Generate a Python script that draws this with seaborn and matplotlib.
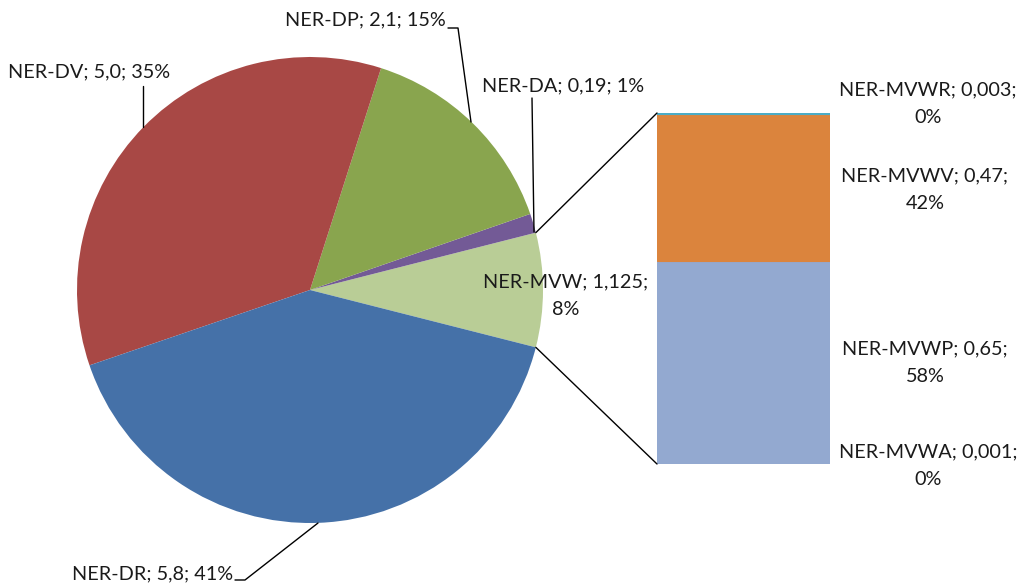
import numpy as np
import matplotlib
matplotlib.use("Agg")
import matplotlib.pyplot as plt
from matplotlib.patches import ConnectionPatch
import seaborn as sns

# ---- data ----
pie_labels = ["NER-MVW", "NER-DA", "NER-DP", "NER-DV", "NER-DR"]
pie_values = [1.125, 0.19, 2.1, 5.0, 5.8]
pie_value_text = ["1,125", "0,19", "2,1", "5,0", "5,8"]
pie_pct_text = ["8%", "1%", "15%", "35%", "41%"]
pie_colors = ["#B9CD96", "#735A96", "#89A54E", "#A84845", "#4571A8"]

bar_labels = ["NER-MVWA", "NER-MVWP", "NER-MVWV", "NER-MVWR"]
bar_values = [0.001, 0.65, 0.47, 0.003]
bar_value_text = ["0,001", "0,65", "0,47", "0,003"]
bar_pct_text = ["0%", "58%", "42%", "0%"]
bar_colors = ["#E46C6C", "#93A9D0", "#DB843D", "#4BACC6"]

sns.set_theme(style="white")
plt.rcParams["font.family"] = ["Lato", "DejaVu Sans"]

W, H = 1020, 586
fig = plt.figure(figsize=(W / 100, H / 100), dpi=100)
fig.patch.set_facecolor("white")

# pie axes
cx, cy, r = 310, 290, 233
ax = fig.add_axes([(cx - r) / W, (H - cy - r) / H, 2 * r / W, 2 * r / H])
mvw_frac = pie_values[0] / sum(pie_values)
start = -mvw_frac * 360 / 2
wedges, _ = ax.pie(pie_values, colors=pie_colors, startangle=start,
                   counterclock=True, radius=1,
                   wedgeprops=dict(linewidth=0))
ax.set_xlim(-1, 1)
ax.set_ylim(-1, 1)
ax.set_aspect("equal")
ax.axis("off")

# bar axes
bx0, bx1, by0, by1 = 657, 830, 113, 464
bax = fig.add_axes([bx0 / W, (H - by1) / H, (bx1 - bx0) / W, (by1 - by0) / H])
bottom = 0.0
for v, c in zip(bar_values, bar_colors):
    bax.bar(0, v, bottom=bottom, width=1.0, color=c, edgecolor=c, linewidth=0.8)
    bottom += v
total_bar = sum(bar_values)
bax.set_xlim(-0.5, 0.5)
bax.set_ylim(0, total_bar)
bax.axis("off")

# connectors
a = np.deg2rad(mvw_frac * 360 / 2)
for sgn, yb in [(1, total_bar), (-1, 0)]:
    con = ConnectionPatch(xyA=(np.cos(a), sgn * np.sin(a)), coordsA=ax.transData,
                          xyB=(-0.5, yb), coordsB=bax.transData,
                          color="black", linewidth=1.0)
    fig.add_artist(con)

fs = 14.3
def ftext(x, y, s, **kw):
    fig.text(x / W, 1 - y / H, s, fontsize=fs, color="#1a1a1a",
             va="center", **kw)

def fline(xs, ys):
    fig.add_artist(plt.Line2D([x / W for x in xs], [1 - y / H for y in ys],
                              color="black", linewidth=1.0))

lab = {n: f"{n}; {v}; {p}" for n, v, p in zip(pie_labels, pie_value_text, pie_pct_text)}

ftext(8, 72, lab["NER-DV"], ha="left")
fline([143, 143], [86, 127])

ftext(446, 20, lab["NER-DP"], ha="right")
fline([448, 458, 471], [28, 28, 122])

ftext(482, 86, lab["NER-DA"], ha="left")
fline([532, 534], [98, 232])

ls = 1.78
ftext(566, 296, "NER-MVW; 1,125;\n8%", ha="center", linespacing=ls)

ftext(233, 574, lab["NER-DR"], ha="right")
fline([235, 245, 318], [580, 580, 523])

# bar labels
bpos = {"NER-MVWR": (928, 104), "NER-MVWV": (925, 190),
        "NER-MVWP": (925, 363), "NER-MVWA": (928, 466)}
for n, v, p in zip(bar_labels, bar_value_text, bar_pct_text):
    x, y = bpos[n]
    ftext(x, y, f"{n}; {v};\n{p}", ha="center", linespacing=ls)

fig.savefig("out.png", dpi=100, facecolor="white")
